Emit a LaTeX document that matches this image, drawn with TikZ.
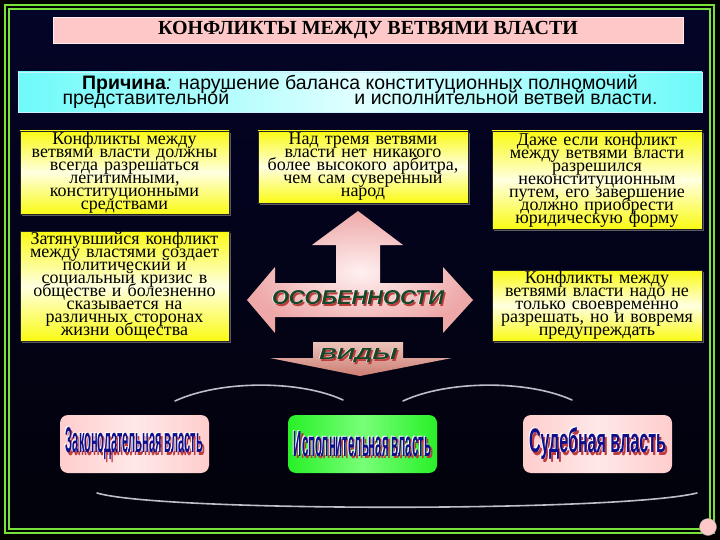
\documentclass[tikz,border=0pt]{standalone}
\usepackage{fontspec}
\usepackage{graphicx}
\setmainfont{Liberation Serif}
\newfontfamily\sansf{Liberation Sans}
\usetikzlibrary{shadows}
\newcommand\tightls{\lineskiplimit=-30pt\relax\lineskip=0pt\relax}
\definecolor{bgtop}{RGB}{4,4,40}
\definecolor{bgmid}{RGB}{16,16,115}
\definecolor{bgbot}{RGB}{2,2,10}
\definecolor{frameg}{RGB}{120,225,60}
\definecolor{yel}{RGB}{250,250,20}
\definecolor{yelmid}{RGB}{255,255,225}
\definecolor{pinkt}{RGB}{255,200,200}
\definecolor{cyanl}{RGB}{110,250,250}
\definecolor{cyanm}{RGB}{225,255,255}
\definecolor{pinkb}{RGB}{255,205,205}
\definecolor{pinkbm}{RGB}{255,232,232}
\definecolor{greenb}{RGB}{40,240,40}
\definecolor{greenbm}{RGB}{120,255,120}
\definecolor{arrpink}{RGB}{238,168,168}
\definecolor{arrlight}{RGB}{255,240,240}
\definecolor{txtgreen}{RGB}{25,70,40}
\definecolor{txtblue}{RGB}{15,15,140}
\definecolor{shred}{RGB}{190,60,60}
\definecolor{vidtop}{RGB}{235,195,185}
\definecolor{vidbot}{RGB}{205,125,115}
\definecolor{arcg}{RGB}{190,190,200}
\tikzset{
  framel/.style={draw=frameg, line width=2pt},
  ybox/.style={draw=black!85, line width=0.6pt, top color=yel, bottom color=yel, middle color=yelmid,
    drop shadow={shadow xshift=2pt, shadow yshift=-2pt, opacity=0.7},
    align=center, inner sep=0pt, text=black, font=\fontsize{18}{13}\selectfont\tightls},
  bbox/.style={rounded corners=8pt, inner sep=0pt, minimum width=149pt, minimum height=58pt},
  arc/.style={draw=arcg, line width=1.6pt, line cap=round},
}
\begin{document}
\begin{tikzpicture}[x=1pt,y=-1pt]
\useasboundingbox (0,0) rectangle (720,540);
\fill[black] (0,0) rectangle (720,540);
\shade[top color=bgtop, middle color=bgmid, bottom color=bgbot] (10,10) rectangle (710,529);
\draw[framel] (5,5) rectangle (714,533);
\draw[framel] (9,9) rectangle (710,529);
\node[circle, fill=pinkt, draw=black!40, line width=0.4pt, minimum size=17pt, inner sep=0pt] (curl) at (708,527) {};

% title
\node[fill=pinkt, draw=white!70!pinkt, line width=0.5pt, minimum width=630pt, minimum height=26pt, inner sep=0pt,
  font=\fontsize{20}{22}\selectfont\bfseries] (title) at (368,30) {КОНФЛИКТЫ МЕЖДУ ВЕТВЯМИ ВЛАСТИ};

% cause
\node[left color=cyanl, right color=cyanl, middle color=cyanm, draw=white!80!cyan, line width=0.6pt,
  minimum width=684pt, minimum height=40pt, inner sep=0pt, align=center,
  font=\sansf\fontsize{19.5}{15}\selectfont\tightls] (cause) at (360,92)
  {{\bfseries Причина}\textit{:} нарушение баланса конституционных полномочий\\
   \makebox[595pt]{представительной\hfill и исполнительной ветвей власти.}};

% yellow boxes
\node[ybox, minimum width=209pt, minimum height=83pt, text width=207pt] (l1) at (124.5,172.5)
  {Конфликты между\\ветвями власти должны\\всегда разрешаться\\легитимными,\\конституционными\\средствами};
\node[ybox, minimum width=209pt, minimum height=110pt, text width=207pt] (l2) at (124.5,286)
  {Затянувшийся конфликт\\между властями создает\\политический и\\социальный кризис в\\обществе и болезненно\\сказывается на\\различных сторонах\\жизни общества};
\node[ybox, minimum width=210pt, minimum height=72pt, text width=208pt] (m) at (363,167)
  {Над тремя ветвями\\власти нет никакого\\более высокого арбитра,\\чем сам суверенный\\народ};
\node[ybox, minimum width=210pt, minimum height=98pt, text width=208pt] (r1) at (597,180)
  {Даже если конфликт\\между ветвями власти\\разрешился\\неконституционным\\путем, его завершение\\должно приобрести\\юридическую форму};
\node[ybox, minimum width=210pt, minimum height=71pt, text width=208pt] (r2) at (597,305.5)
  {Конфликты между\\ветвями власти надо не\\только своевременно\\разрешать, но и вовремя\\предупреждать};

% cross arrow
\shade[inner color=arrlight, outer color=arrpink]
  (358,211) -- (403,245) -- (380,245) -- (380,283) -- (443,283) -- (443,267) -- (473,300)
  -- (443,333) -- (443,317) -- (275,317) -- (275,333) -- (247,300) -- (275,267) -- (275,283)
  -- (336,283) -- (336,245) -- (312,245) -- cycle;
\node[text=shred] at (359.5,299.5) {\resizebox{172pt}{14pt}{\sansf\bfseries\itshape ОСОБЕННОСТИ}};
\node[text=white] at (357.3,297.3) {\resizebox{172pt}{14pt}{\sansf\bfseries\itshape ОСОБЕННОСТИ}};
\node[text=txtgreen] (osob) at (358,298) {\resizebox{172pt}{14pt}{\sansf\bfseries\itshape ОСОБЕННОСТИ}};

% vidy arrow
\shade[top color=vidtop, bottom color=vidbot]
  (313,342) -- (403,342) -- (403,358) -- (452,358) -- (360,376) -- (270,358) -- (313,358) -- cycle;
\node[text=shred] at (359.5,357.5) {\resizebox{78pt}{11pt}{\sansf\bfseries\itshape ВИДЫ}};
\node[text=white] at (357.3,355.3) {\resizebox{78pt}{11pt}{\sansf\bfseries\itshape ВИДЫ}};
\node[text=txtgreen] (vidy) at (358,356) {\resizebox{78pt}{11pt}{\sansf\bfseries\itshape ВИДЫ}};

% bottom boxes
\node[bbox, left color=pinkb, right color=pinkb, middle color=pinkbm] (z) at (134.5,444) {};
\node[bbox, left color=greenb, right color=greenb, middle color=greenbm] (i) at (362.5,444) {};
\node[bbox, left color=pinkb, right color=pinkb, middle color=pinkbm] (s) at (597.5,444) {};

\foreach \nm/\px/\tx in {zt/134.5/Законодательная власть, it/362.5/Исполнительная власть, st/597.5/Судебная власть}{
  \node[text=shred] at (\px+2,446.5) {\resizebox{137pt}{25pt}{\sansf\bfseries \tx}};
  \node[text=white] at (\px-1,443) {\resizebox{137pt}{25pt}{\sansf\bfseries \tx}};
  \node[text=txtblue] (\nm) at (\px,444) {\resizebox{137pt}{25pt}{\sansf\bfseries \tx}};
}

% arcs
\coordinate (a1) at (175,401); \coordinate (a2) at (343,400);
\coordinate (b1) at (403,401); \coordinate (b2) at (572,400);
\coordinate (c1) at (97,493);  \coordinate (c2) at (697,493);
\draw[arc] (a1) .. controls (220,380) and (300,380) .. (a2);
\draw[arc] (b1) .. controls (448,380) and (528,380) .. (b2);
\draw[arc] (c1) .. controls (160,512) and (620,512) .. (c2);
\end{tikzpicture}
\end{document}
